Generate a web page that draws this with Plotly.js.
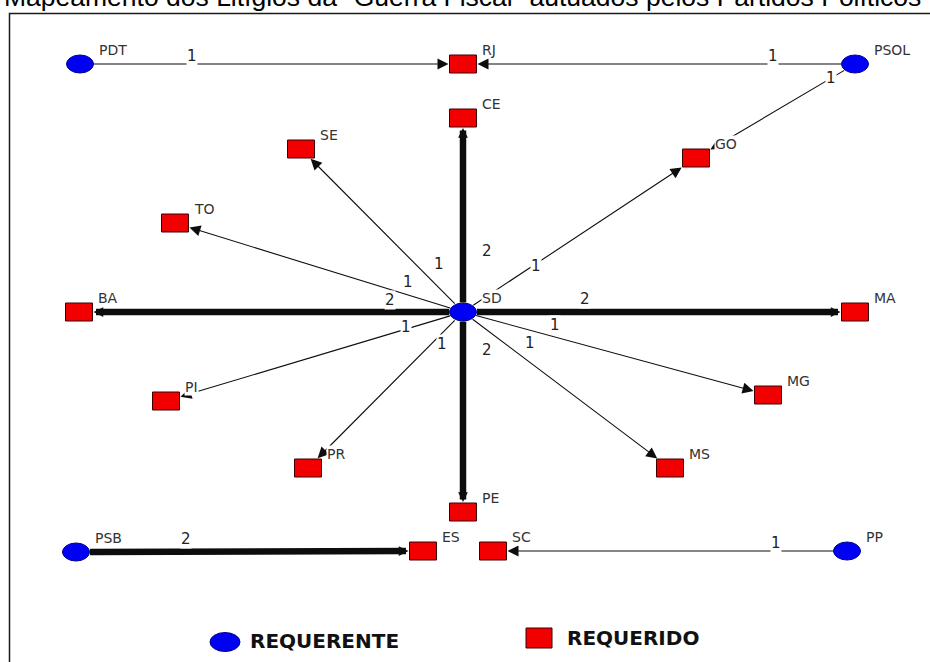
<!DOCTYPE html>
<html>
<head>
<meta charset="utf-8">
<script src="https://cdn.plot.ly/plotly-3.0.1.min.js"></script>
<style>
  html, body { margin: 0; padding: 0; background: #ffffff; }
  #chart { width: 930px; height: 662px; }
</style>
</head>
<body>
<div id="chart"></div>
<script>
// ---------------- DATA ----------------
const chartTitle = 'Mapeamento dos Litígios da "Guerra Fiscal" autuados pelos Partidos Políticos';

const nodeNames = ['PDT', 'RJ', 'PSOL', 'CE', 'SE', 'GO', 'TO', 'BA', 'SD', 'MA',
                   'PI', 'MG', 'PR', 'MS', 'PE', 'PSB', 'ES', 'SC', 'PP'];
const nodeRole  = ['REQUERENTE', 'REQUERIDO', 'REQUERENTE', 'REQUERIDO', 'REQUERIDO',
                   'REQUERIDO', 'REQUERIDO', 'REQUERIDO', 'REQUERENTE', 'REQUERIDO',
                   'REQUERIDO', 'REQUERIDO', 'REQUERIDO', 'REQUERIDO', 'REQUERIDO',
                   'REQUERENTE', 'REQUERIDO', 'REQUERIDO', 'REQUERENTE'];
// network layout coordinates (graph layout space)
const nodeX = [80, 463, 855, 463, 301, 696, 175, 79, 463, 855,
               166, 768, 308, 670, 463, 76, 423, 493, 847];
const nodeY = [64, 64, 64, 118, 149, 158, 223, 312, 312, 312,
               401, 395, 468, 468, 512, 552, 551, 551, 551];

const edgeSource = ['PDT', 'PSOL', 'PSOL', 'SD', 'SD', 'SD', 'SD', 'SD',
                    'SD', 'SD', 'SD', 'SD', 'SD', 'SD', 'PSB', 'PP'];
const edgeTarget = ['RJ', 'RJ', 'GO', 'CE', 'SE', 'TO', 'BA', 'GO',
                    'MA', 'MG', 'MS', 'PE', 'PI', 'PR', 'ES', 'SC'];
const edgeWeight = [1, 1, 1, 2, 1, 1, 2, 1,
                    2, 1, 1, 2, 1, 1, 2, 1];

const legendLabels = ['REQUERENTE', 'REQUERIDO'];

// ---------------- STYLE / PLACEMENT ----------------
// where each edge's weight label sits: fraction along edge + pixel nudge
const edgeLabelT  = [0.292, 0.209, 0.15, 0.314, 0.222, 0.204, 0.19, 0.31,
                     0.311, 0.292, 0.278, 0.19, 0.193, 0.2, 0.317, 0.2];
const edgeLabelDX = [0, 0, 0, 24, 12, 4, 0, 1, 0, 3, 9, 24, 0, 10, 0, 0];
const edgeLabelDY = [-8, -8, 0, 0, -12, -12, -12, 2, -13, -11, -12, 0, -2, 1, -13, -8];

const W = 930, H = 662;
const NODE_HW = 13.5, NODE_HH = 9;
const BLUE = '#0000f2', BLUE_LINE = '#00008c';
const RED = '#f20000', RED_LINE = '#3c0000';
const EDGE_COLOR = '#0d0d0d';
const LABEL_FONT = 'DejaVu Sans, Verdana, sans-serif';

const idx = {};
nodeNames.forEach((n, i) => { idx[n] = i; });

const shapes = [];
const annotations = [];

// frame
shapes.push({type: 'rect', xref: 'x', yref: 'y', x0: 9.5, x1: 960, y0: 13.5, y1: 720,
             line: {color: '#1a1a1a', width: 1.5}, fillcolor: 'rgba(0,0,0,0)', layer: 'below'});

// edges
function rectDist(ux, uy) {
  const ax = Math.abs(ux) < 1e-9 ? Infinity : NODE_HW / Math.abs(ux);
  const ay = Math.abs(uy) < 1e-9 ? Infinity : NODE_HH / Math.abs(uy);
  return Math.min(ax, ay);
}
function ellDist(ux, uy) {
  return 1 / Math.sqrt((ux / NODE_HW) ** 2 + (uy / NODE_HH) ** 2);
}
function glyphDist(i, ux, uy) {
  return nodeRole[i] === 'REQUERENTE' ? ellDist(ux, uy) : rectDist(ux, uy);
}

for (let e = 0; e < edgeSource.length; e++) {
  const s = idx[edgeSource[e]], t = idx[edgeTarget[e]];
  const sx = nodeX[s], sy = nodeY[s], tx = nodeX[t], ty = nodeY[t];
  const len = Math.hypot(tx - sx, ty - sy);
  const ux = (tx - sx) / len, uy = (ty - sy) / len;
  const thick = edgeWeight[e] > 1;
  annotations.push({
    xref: 'x', yref: 'y', axref: 'x', ayref: 'y',
    x: tx, y: ty, ax: sx, ay: sy, text: '',
    showarrow: true, arrowhead: 2,
    arrowwidth: thick ? 6.5 : 1.1,
    arrowsize: thick ? 0.3 : 2.0,
    arrowcolor: EDGE_COLOR,
    standoff: glyphDist(t, ux, uy) + 1,
    startstandoff: glyphDist(s, ux, uy) - 1
  });
}

// edge weight labels
for (let e = 0; e < edgeSource.length; e++) {
  const s = idx[edgeSource[e]], t = idx[edgeTarget[e]];
  const px = nodeX[s] + (nodeX[t] - nodeX[s]) * edgeLabelT[e] + edgeLabelDX[e];
  const py = nodeY[s] + (nodeY[t] - nodeY[s]) * edgeLabelT[e] + edgeLabelDY[e];
  annotations.push({
    xref: 'x', yref: 'y', x: px, y: py, text: String(edgeWeight[e]),
    showarrow: false, xanchor: 'center', yanchor: 'middle',
    font: {family: LABEL_FONT, size: 15, color: '#222222'},
    bgcolor: '#ffffff', borderpad: 0
  });
}

// node glyphs and labels
for (let i = 0; i < nodeNames.length; i++) {
  const req = nodeRole[i] === 'REQUERENTE';
  shapes.push({
    type: req ? 'circle' : 'rect', xref: 'x', yref: 'y', layer: 'above',
    x0: nodeX[i] - NODE_HW, x1: nodeX[i] + NODE_HW,
    y0: nodeY[i] - NODE_HH, y1: nodeY[i] + NODE_HH,
    fillcolor: req ? BLUE : RED,
    line: {color: req ? BLUE_LINE : RED_LINE, width: 1}
  });
  annotations.push({
    xref: 'x', yref: 'y', x: nodeX[i] + 18, y: nodeY[i] - 14,
    text: nodeNames[i], showarrow: false, xanchor: 'left', yanchor: 'middle',
    font: {family: LABEL_FONT, size: 14, color: '#333333'},
    bgcolor: '#ffffff', borderpad: 0
  });
}

// legend (drawn in layout space)
shapes.push({type: 'circle', xref: 'x', yref: 'y', layer: 'above',
             x0: 210, x1: 240, y0: 632.5, y1: 651.5,
             fillcolor: BLUE, line: {color: BLUE_LINE, width: 1}});
annotations.push({xref: 'x', yref: 'y', x: 248, y: 641, text: '<b>' + legendLabels[0] + '</b>',
                  showarrow: false, xanchor: 'left', yanchor: 'middle',
                  font: {family: LABEL_FONT, size: 20, color: '#111111'}});
shapes.push({type: 'rect', xref: 'x', yref: 'y', layer: 'above',
             x0: 526, x1: 552, y0: 628, y1: 648,
             fillcolor: RED, line: {color: RED_LINE, width: 1}});
annotations.push({xref: 'x', yref: 'y', x: 565, y: 638, text: '<b>' + legendLabels[1] + '</b>',
                  showarrow: false, xanchor: 'left', yanchor: 'middle',
                  font: {family: LABEL_FONT, size: 20, color: '#111111'}});

// title (cut at the top edge, as in the reference)
annotations.push({xref: 'paper', yref: 'paper', x: 0.497, y: 1 + 3 / H,
                  text: chartTitle, showarrow: false, xanchor: 'center', yanchor: 'middle',
                  font: {family: 'Liberation Sans, Arial, sans-serif', size: 26.5, color: '#000000'}});

const traces = [{
  type: 'scatter', mode: 'markers', x: nodeX, y: nodeY,
  text: nodeNames.map((n, i) => n + ' (' + nodeRole[i] + ')'),
  hoverinfo: 'text', marker: {size: 22, opacity: 0}, showlegend: false
}];

const layout = {
  width: W, height: H,
  margin: {l: 0, r: 0, t: 0, b: 0},
  paper_bgcolor: '#ffffff', plot_bgcolor: '#ffffff',
  showlegend: false,
  xaxis: {range: [0, W], visible: false, fixedrange: true},
  yaxis: {range: [H, 0], visible: false, fixedrange: true},
  shapes: shapes,
  annotations: annotations
};

Plotly.newPlot('chart', traces, layout, {displayModeBar: false, staticPlot: true});
</script>
</body>
</html>
